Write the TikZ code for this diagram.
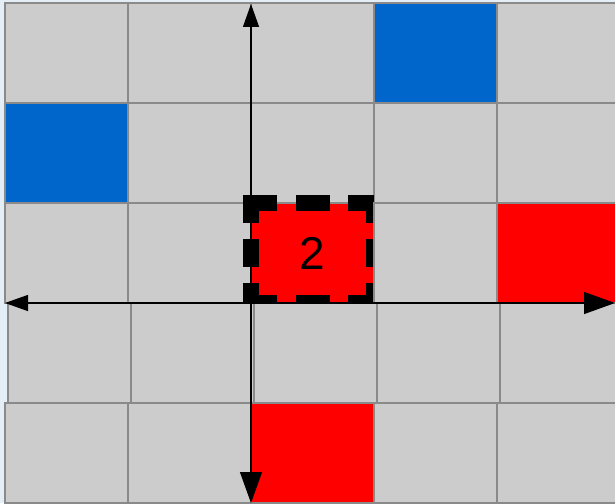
\documentclass[tikz,border=0pt]{standalone}
\usepackage{fontspec}
\setmainfont{Liberation Sans}
\usetikzlibrary{arrows.meta,positioning}
\definecolor{GridBack}{HTML}{E4EEF7}
\definecolor{GridGray}{HTML}{CCCCCC}
\definecolor{GridLine}{HTML}{8A8A8A}
\definecolor{GridBlue}{HTML}{0066CC}
\definecolor{GridRed}{HTML}{FF0000}
\tikzset{
  cell/.style={draw=GridLine, line width=1.3pt, fill=GridGray, anchor=north west,
    minimum width=123pt, minimum height=100pt, inner sep=0pt, outer sep=0pt},
  bluecell/.style={fill=GridBlue},
  redcell/.style={fill=GridRed},
  frameside/.style={draw=black, line width=16pt, line cap=rect},
  longside/.style={frameside, dash pattern=on 18pt off 34.5pt},
  shortside/.style={frameside, dash pattern=on 12pt off 32pt},
  marked/.style={redcell, font=\fontsize{46}{50}\selectfont,
    append after command={
      (\tikzlastnode.south west) edge[longside] (\tikzlastnode.south east)
      (\tikzlastnode.south east) edge[shortside] ([yshift=-8pt]\tikzlastnode.north east)
      (\tikzlastnode.north west) edge[longside] ([xshift=-8pt]\tikzlastnode.north east)
      (\tikzlastnode.north west) edge[shortside] (\tikzlastnode.south west)}},
  % colours of single cells, row-col
  cell-0-3/.style={bluecell},
  cell-1-0/.style={bluecell},
  cell-2-2/.style={marked},
  cell-2-4/.style={redcell},
  cell-4-2/.style={redcell},
  axis/.style={line width=1.3pt, draw=black,
    {Triangle[length=23pt,width=16pt]}-{Triangle[length=31pt,width=22pt]}}
}
\begin{document}
\begin{tikzpicture}[x=1pt, y=-1pt]
  \useasboundingbox (0,0) rectangle (615,503);
  \fill[GridBack] (0,0) rectangle (615,503);
  \clip (0,0) rectangle (615,503);
  % the 5x5 board (fourth row sits a little to the right)
  \foreach \row/\dx in {0/0,1/0,2/0,3/3,4/0}
    \foreach \col in {0,...,4}
      \node[cell, cell-\row-\col/.try] (c-\row-\col) at ({5+\dx+123*\col},{3+100*\row})
        {\ifnum\row=2 \ifnum\col=2 2\fi\fi};
  % axes
  \coordinate (west) at (5,303);
  \coordinate (east) at (615,303);
  \coordinate (north) at (251,4);
  \coordinate (south) at (251,503);
  \draw[axis] (west) -- (east);
  \draw[axis] (north) -- (south);
\end{tikzpicture}
\end{document}
